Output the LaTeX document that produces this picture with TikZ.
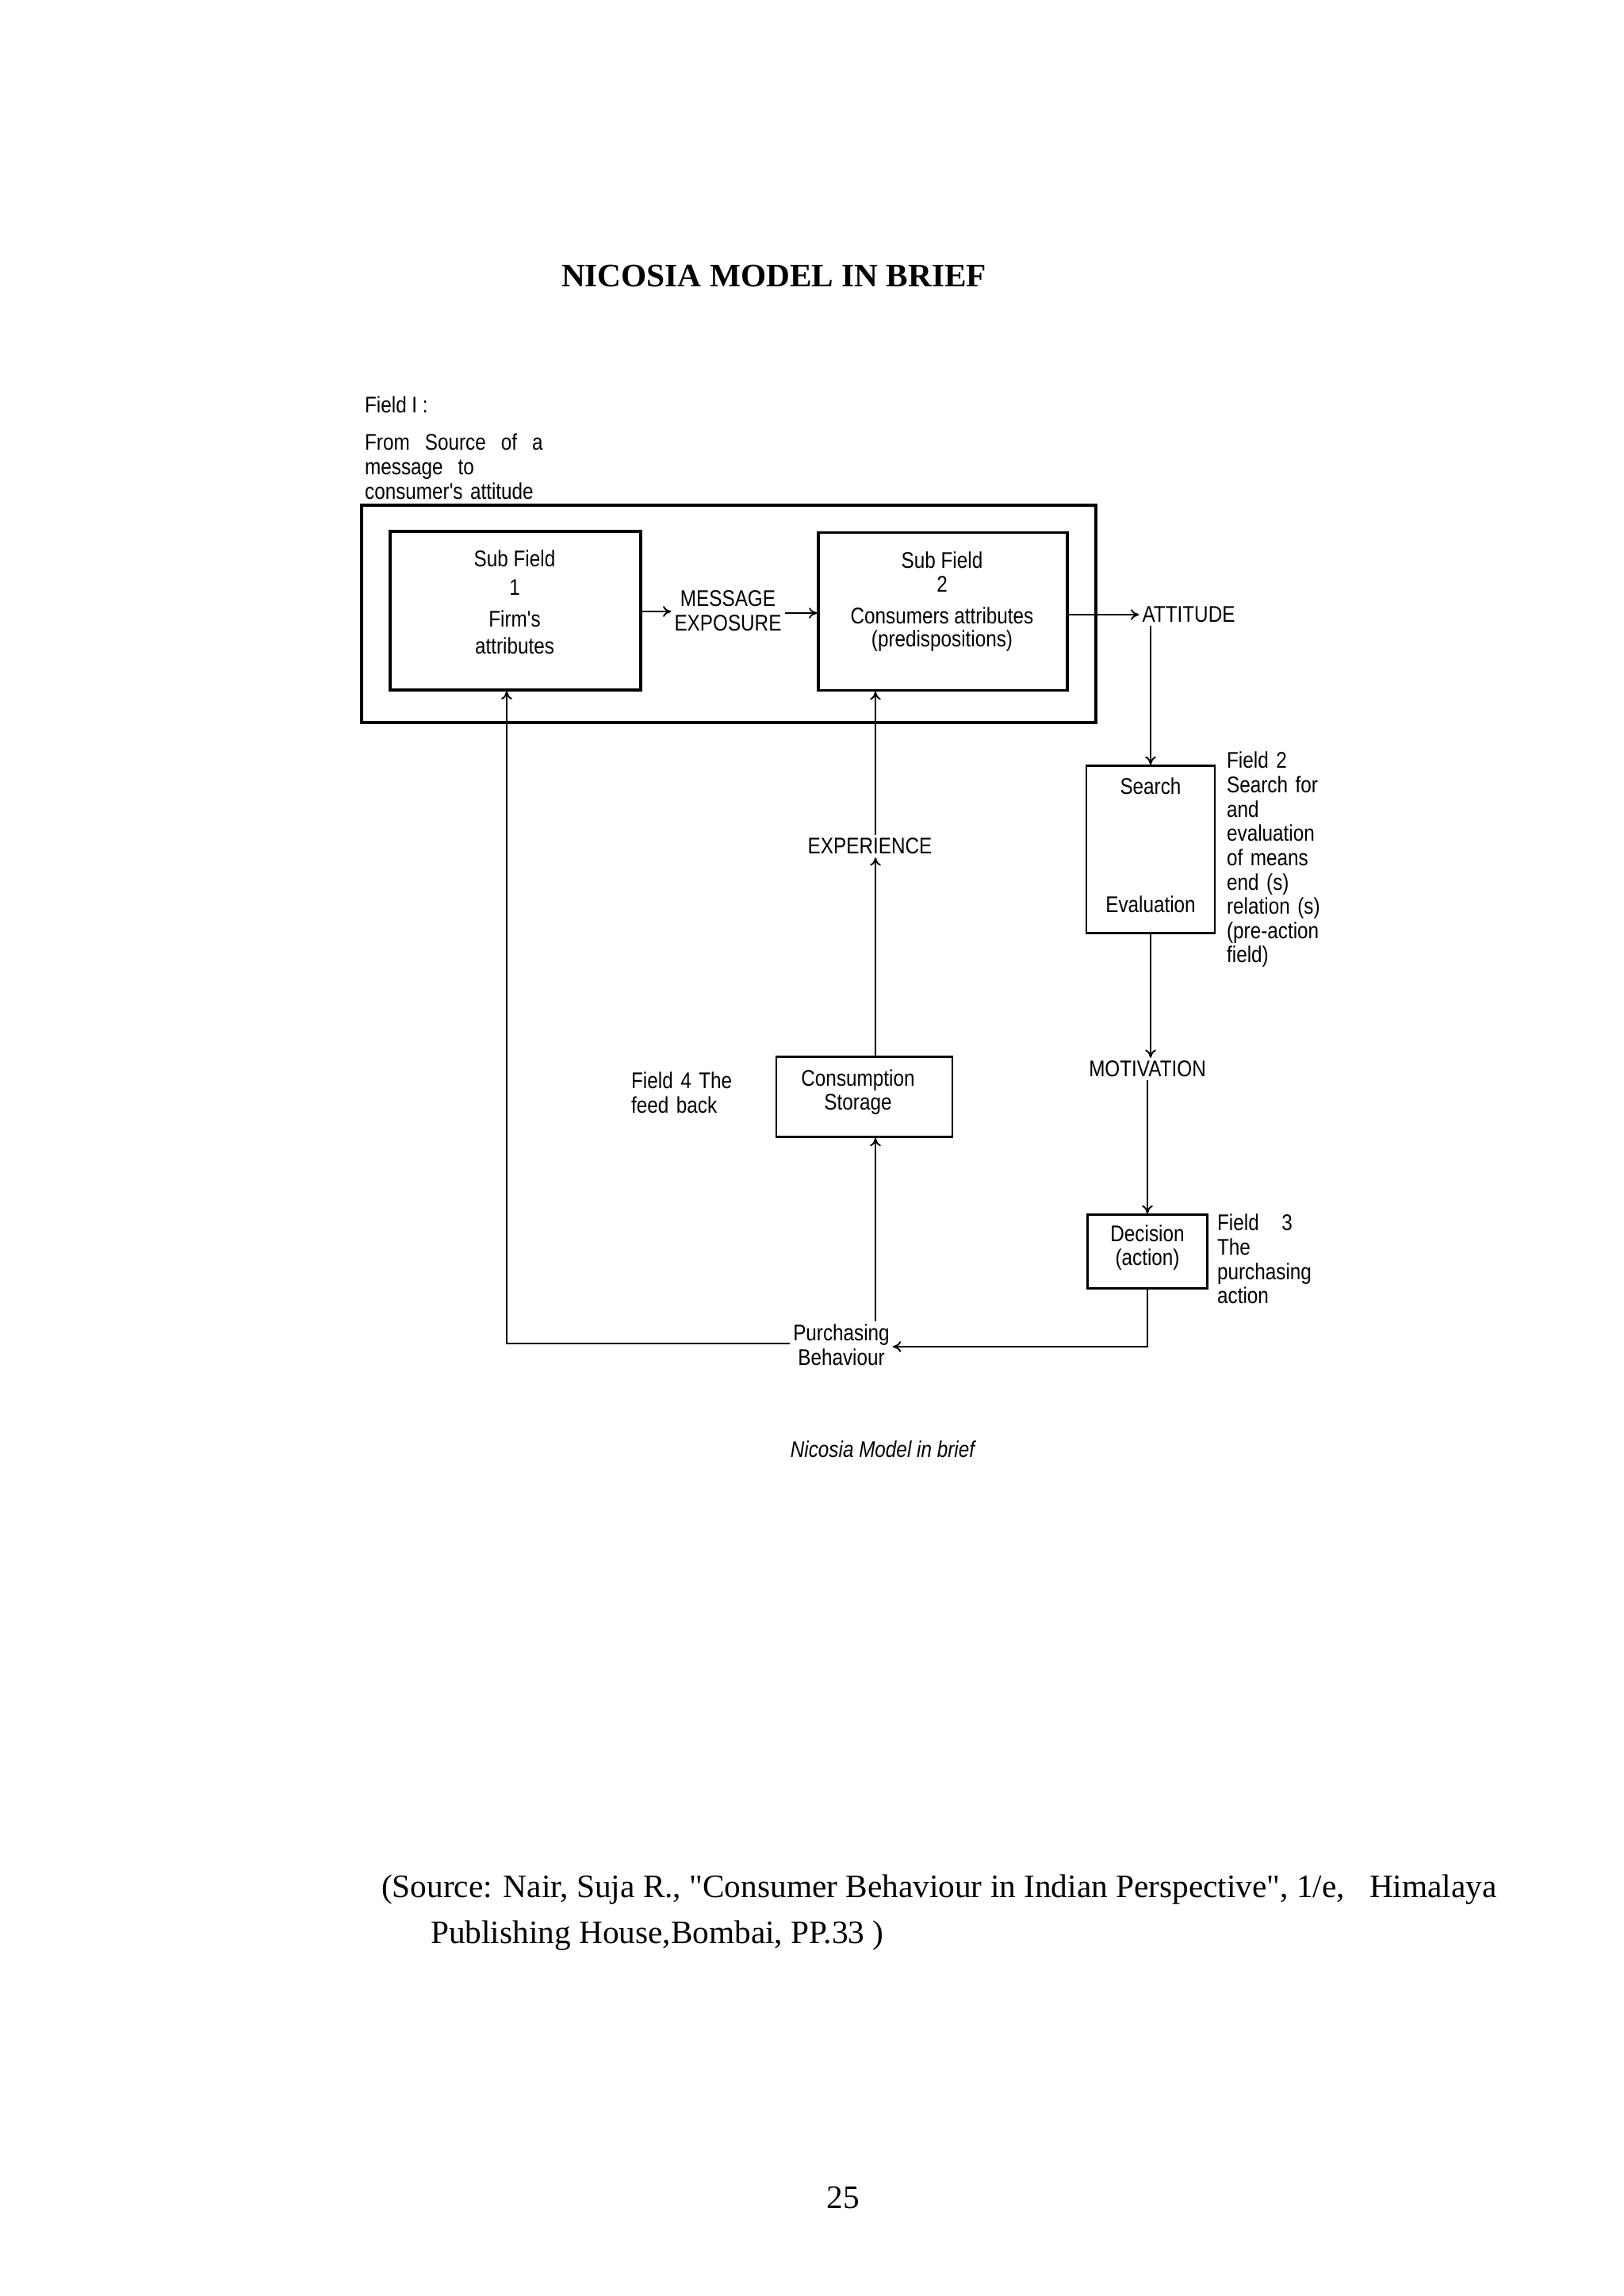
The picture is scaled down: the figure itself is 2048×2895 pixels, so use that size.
\documentclass[tikz,border=0pt]{standalone}
\usepackage{fontspec}
\setmainfont{Liberation Serif}
\newfontfamily\dsans[FakeStretch=0.85]{Liberation Sans}
\usetikzlibrary{arrows.meta}
\begin{document}
\begin{tikzpicture}[x=0.2905pt,y=-0.2905pt,
  lab/.style={font=\dsans\fontsize{8.3}{8.9}\selectfont,align=center,inner sep=1pt},
  labl/.style={lab,align=left,anchor=north west},
  box/.style={draw,line width=0.9pt,inner sep=0pt},
  con/.style={line width=0.55pt},
  arr/.style={con,-{To[length=3pt,width=4pt]}}]
\useasboundingbox (0,0) rectangle (2048,2895);
\node[font=\bfseries\fontsize{12}{14}\selectfont] (title) at (976,348) {NICOSIA MODEL IN BRIEF};
\node[labl] (f1) at (456,496) {Field I :};
\node[labl,text width=75pt] (f1b) at (456,543) {From\ \ Source\ \ of\ \ a\ \ message\ \ to\\consumer's attitude};
% boxes
\node[box,minimum width=926*0.2905pt,minimum height=274*0.2905pt] (outer) at (919,774) {};
\node[box,minimum width=316*0.2905pt,minimum height=200*0.2905pt] (b1) at (650,770) {};
\node[box,minimum width=314*0.2905pt,minimum height=199*0.2905pt] (b2) at (1189,771) {};
\node[lab] at (649,704) {Sub Field};
\node[lab] at (649,741) {1};
\node[lab] at (649,780) {Firm's};
\node[lab] at (649,814) {attributes};
\node[lab] at (1188,706) {Sub Field};
\node[lab] at (1188,737) {2};
\node[lab] at (1188,776) {Consumers attributes};
\node[lab] at (1188,808) {(predispositions)};
\node[lab] (msg) at (918,770) {MESSAGE\\EXPOSURE};
\node[lab] (att) at (1499,775) {ATTITUDE};
\node[box,line width=0.8pt,minimum width=162*0.2905pt,minimum height=211*0.2905pt] (se) at (1451,1071) {};
\node[lab] at (1451,991) {Search};
\node[lab] at (1451,1140) {Evaluation};
\node[labl,text width=45pt] at (1543,944) {Field 2\\Search for\\and\\evaluation\\of means\\end (s)\\relation (s)\\(pre-action\\field)};
\node[lab] (mot) at (1447,1348) {MOTIVATION};
\node[box,line width=0.8pt,minimum width=151*0.2905pt,minimum height=93*0.2905pt] (dec) at (1447,1578) {};
\node[lab] at (1447,1573) {Decision\\(action)};
\node[labl,text width=45pt] at (1531,1527) {Field\ \ \ 3\\The\\purchasing\\action};
\node[lab] (exp) at (1097,1067) {EXPERIENCE};
\node[box,line width=0.8pt,minimum width=222*0.2905pt,minimum height=101*0.2905pt] (cons) at (1090,1383) {};
\node[lab] at (1082,1377) {Consumption\\Storage};
\node[labl,text width=45pt] at (792,1348) {Field 4 The\\feed back};
\node[lab] (pb) at (1061,1696) {Purchasing\\Behaviour};
\node[font=\dsans\itshape\fontsize{8.3}{9}\selectfont] (cap) at (1113,1827) {Nicosia Model in brief};
% connectors
\draw[arr] (b1.east|-0,771) -- (msg.west|-0,771);
\draw[arr] (msg.east|-0,773) -- (b2.west|-0,773);
\draw[arr] (b2.east|-0,775) -- (att.west|-0,775);
\draw[arr] (att.south-|se.north) -- (se.north);
\draw[arr] (se.south) -- (mot.north-|se.south);
\draw[arr] (mot.south) -- (dec.north);
\coordinate (dr) at (1447,1698);
\draw[arr] (dec.south-|dr) -- (dr) -- (pb.east|-dr);
\coordinate (dl) at (639,1694);
\draw[arr] (pb.west|-dl) -- (dl) -- (dl|-b1.south);
\draw[arr] (pb.north-|1104,0) -- (cons.south-|1104,0);
\draw[arr] (cons.north-|1104,0) -- (exp.south-|1104,0);
\draw[arr] (exp.north-|1104,0) -- (b2.south-|1104,0);
% source
\node[anchor=west,font=\fontsize{12}{14}\selectfont] (src1) at (469,2383) {(Source: Nair, Suja R., \textquotedbl Consumer Behaviour in Indian Perspective\textquotedbl, 1/e,\ \ \ Himalaya};
\node[anchor=west,font=\fontsize{12}{14}\selectfont] (src2) at (531,2441) {Publishing House,Bombai, PP.33 )};
\node[font=\fontsize{12}{14}\selectfont] (pg) at (1063,2771) {25};
\end{tikzpicture}
\end{document}
